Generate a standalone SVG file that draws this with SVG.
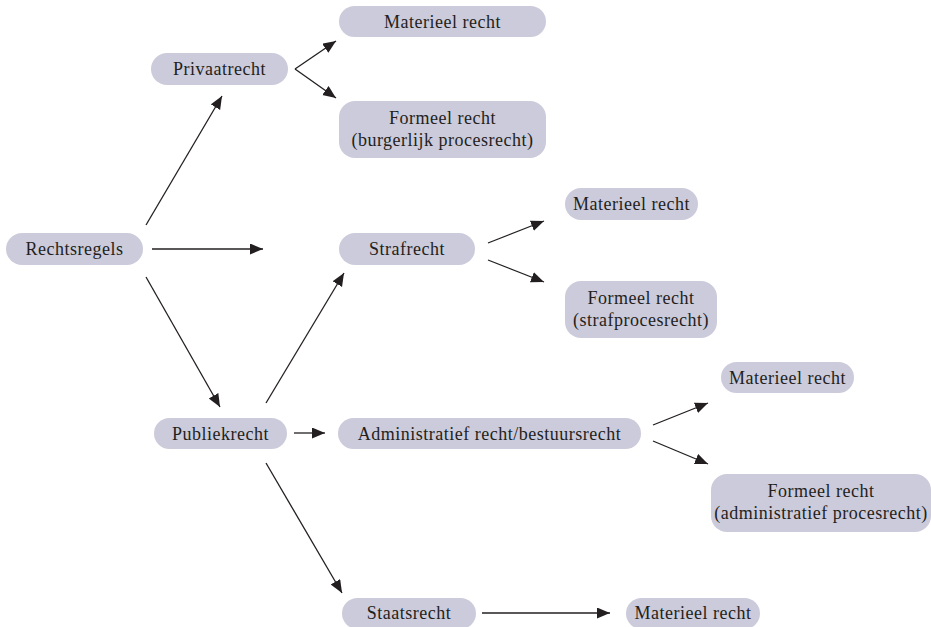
<svg xmlns="http://www.w3.org/2000/svg" width="931" height="627" viewBox="0 0 931 627">
<style>
.box{fill:#cccbdb;}
.t{font-family:"Liberation Serif","Times New Roman",serif;font-size:18px;fill:#231f20;text-anchor:middle;letter-spacing:0.5px;}
.c{stroke:#231f20;stroke-width:1.3;fill:none;}
</style>
<defs>
<marker id="ah" markerUnits="userSpaceOnUse" markerWidth="14" markerHeight="12" refX="13" refY="5.5" orient="auto">
<path d="M0,0 L13,5.5 L0,11 z" fill="#231f20"/>
</marker>
</defs>
<rect width="931" height="627" fill="#ffffff"/>
<g id="connectors">
<line class="c" x1="146" y1="225" x2="222" y2="96" marker-end="url(#ah)"/>
<line class="c" x1="152" y1="249" x2="263" y2="249" marker-end="url(#ah)"/>
<line class="c" x1="146" y1="277" x2="220" y2="407" marker-end="url(#ah)"/>
<line class="c" x1="295" y1="69" x2="336" y2="41" marker-end="url(#ah)"/>
<line class="c" x1="295" y1="69" x2="336" y2="98" marker-end="url(#ah)"/>
<line class="c" x1="266" y1="403" x2="344" y2="273" marker-end="url(#ah)"/>
<line class="c" x1="294" y1="433" x2="325" y2="433" marker-end="url(#ah)"/>
<line class="c" x1="266" y1="463" x2="342" y2="593" marker-end="url(#ah)"/>
<line class="c" x1="488" y1="243" x2="544" y2="221" marker-end="url(#ah)"/>
<line class="c" x1="488" y1="260" x2="544" y2="282" marker-end="url(#ah)"/>
<line class="c" x1="653" y1="425" x2="708" y2="403" marker-end="url(#ah)"/>
<line class="c" x1="653" y1="441" x2="708" y2="464" marker-end="url(#ah)"/>
<line class="c" x1="482" y1="613" x2="610" y2="613" marker-end="url(#ah)"/>
</g>
<g id="rechtsregels"><rect class="box" x="6" y="233" width="137" height="32" rx="16"/><text class="t" x="74.5" y="255">Rechtsregels</text></g>
<g id="privaatrecht"><rect class="box" x="151" y="53" width="137" height="32" rx="16"/><text class="t" x="219.5" y="75">Privaatrecht</text></g>
<g id="priv-materieel"><rect class="box" x="339" y="6" width="207" height="31" rx="15.5"/><text class="t" x="442.5" y="27.5">Materieel recht</text></g>
<g id="priv-formeel"><rect class="box" x="339" y="101" width="207" height="57" rx="16"/><text class="t" x="442.5" y="124">Formeel recht</text><text class="t" x="442.5" y="145.5">(burgerlijk procesrecht)</text></g>
<g id="strafrecht"><rect class="box" x="339" y="233" width="136" height="32" rx="16"/><text class="t" x="407" y="255">Strafrecht</text></g>
<g id="straf-materieel"><rect class="box" x="565" y="188" width="133" height="32" rx="16"/><text class="t" x="631.5" y="210">Materieel recht</text></g>
<g id="straf-formeel"><rect class="box" x="565" y="281" width="152" height="57" rx="16"/><text class="t" x="641" y="304">Formeel recht</text><text class="t" x="641" y="325.5">(strafprocesrecht)</text></g>
<g id="publiekrecht"><rect class="box" x="154" y="418" width="133" height="31" rx="15.5"/><text class="t" x="220.5" y="439.5">Publiekrecht</text></g>
<g id="administratief"><rect class="box" x="338" y="418" width="303" height="31" rx="15.5"/><text class="t" x="489.5" y="439.5">Administratief recht/bestuursrecht</text></g>
<g id="adm-materieel"><rect class="box" x="721" y="362" width="133" height="31" rx="15.5"/><text class="t" x="787.5" y="383.5">Materieel recht</text></g>
<g id="adm-formeel"><rect class="box" x="711" y="474" width="220" height="58" rx="16"/><text class="t" x="821" y="497">Formeel recht</text><text class="t" x="821" y="519">(administratief procesrecht)</text></g>
<g id="staatsrecht"><rect class="box" x="342" y="598" width="134" height="31" rx="15.5"/><text class="t" x="409" y="619">Staatsrecht</text></g>
<g id="staats-materieel"><rect class="box" x="626" y="598" width="134" height="31" rx="15.5"/><text class="t" x="693" y="619">Materieel recht</text></g>
</svg>
